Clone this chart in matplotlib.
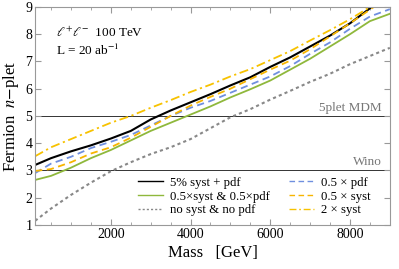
import numpy as np
import matplotlib.pyplot as plt
from matplotlib.ticker import MultipleLocator

plt.rcParams['font.family'] = ['Liberation Serif', 'DejaVu Serif']
plt.rcParams['mathtext.fontset'] = 'stix'

# mass grid [GeV]
mass = [100, 500, 1000, 1500, 2000, 2500, 3000, 3500, 4000, 4500,
        5000, 5500, 6000, 6500, 7000, 7500, 8000, 8500, 9000]

# reach in n for each scenario
nominal = [3.2, 3.45, 3.7, 3.92, 4.17, 4.45, 4.87, 5.2, 5.5, 5.8,
           6.12, 6.42, 6.8, 7.15, 7.55, 7.95, 8.4, 8.95, 9.5]
half_both = [2.65, 2.8, 3.1, 3.45, 3.75, 4.1, 4.45, 4.75, 5.05, 5.35,
             5.68, 5.98, 6.3, 6.7, 7.1, 7.55, 8.0, 8.48, 8.75]
no_syst = [1.15, 1.6, 2.1, 2.55, 2.97, 3.3, 3.6, 3.85, 4.15, 4.55,
           4.95, 5.25, 5.6, 5.92, 6.25, 6.55, 6.9, 7.2, 7.5]
half_pdf = [2.9, 3.25, 3.5, 3.82, 4.05, 4.3, 4.65, 5.0, 5.3, 5.55,
            5.85, 6.15, 6.45, 6.83, 7.28, 7.7, 8.2, 8.65, 8.92]
half_syst = [2.98, 3.05, 3.3, 3.62, 3.85, 4.2, 4.6, 5.0, 5.38, 5.7,
             6.0, 6.35, 6.7, 7.03, 7.45, 7.92, 8.4, 8.9, 9.4]
double_syst = [3.52, 3.85, 4.15, 4.45, 4.75, 5.0, 5.3, 5.58, 5.88, 6.15,
               6.45, 6.72, 7.05, 7.38, 7.77, 8.15, 8.55, 9.0, 9.45]

fig = plt.figure(figsize=(3.99, 2.69), dpi=100)
ax = fig.add_axes([0.088, 0.164, 0.889, 0.81])

ax.axhline(5, color='#333333', lw=0.7, zorder=1)
ax.axhline(3, color='#333333', lw=0.7, zorder=1)

ax.plot(mass, nominal, color='black', lw=1.5, label='5% syst + pdf')
ax.plot(mass, half_both, color='#8fb83c', lw=1.3, label='0.5×syst & 0.5×pdf')
ax.plot(mass, no_syst, color='#888888', lw=1.5, ls=(0, (1.5, 1.5)), label='no syst & no pdf')
ax.plot(mass, half_pdf, color='#6f8fdf', lw=1.3, ls=(0, (4, 2.5)), label='0.5 × pdf')
ax.plot(mass, half_syst, color='#f7b500', lw=1.3, ls=(0, (4, 2.5)), label='0.5 × syst')
ax.plot(mass, double_syst, color='#f7c200', lw=1.3, ls=(0, (5, 2, 1.2, 2)), label='2 × syst')

ax.text(8800, 5.08, '5plet MDM', ha='right', va='bottom', color='#777777', fontsize=9.5)
ax.text(8800, 3.08, 'Wino', ha='right', va='bottom', color='#777777', fontsize=9.5)
ax.text(630, 8.05, r'$\ell^{+}\ell^{-}$  100 TeV', fontsize=9.5, va='center')
ax.text(630, 7.42, r'L = 20 ab$^{-1}$', fontsize=9.5, va='center')

ax.set_xlim(100, 9000)
ax.set_ylim(1, 9)
ax.xaxis.set_major_locator(MultipleLocator(2000))
ax.xaxis.set_minor_locator(MultipleLocator(500))
ax.yaxis.set_major_locator(MultipleLocator(1))
ax.tick_params(which='both', direction='in', top=True, right=True,
               color='#999999', labelsize=10, pad=2)
ax.tick_params(which='major', length=4)
ax.tick_params(which='minor', length=2)
for s in ax.spines.values():
    s.set_color('#999999')
    s.set_linewidth(0.8)

ax.set_xlabel('Mass   [GeV]', fontsize=12, labelpad=3)
ax.set_ylabel(r'Fermion  $n$$-$plet', fontsize=12, labelpad=3)

leg = ax.legend(loc='upper left', ncol=2, frameon=False, fontsize=9.2,
                handlelength=1.95, handletextpad=0.55, columnspacing=1.5,
                labelspacing=0.13, borderpad=0.0, borderaxespad=0.0,
                bbox_to_anchor=(0.29, 0.22))
for line in leg.get_lines():
    line.set_linewidth(1.0)

fig.savefig('out.png', dpi=100)
